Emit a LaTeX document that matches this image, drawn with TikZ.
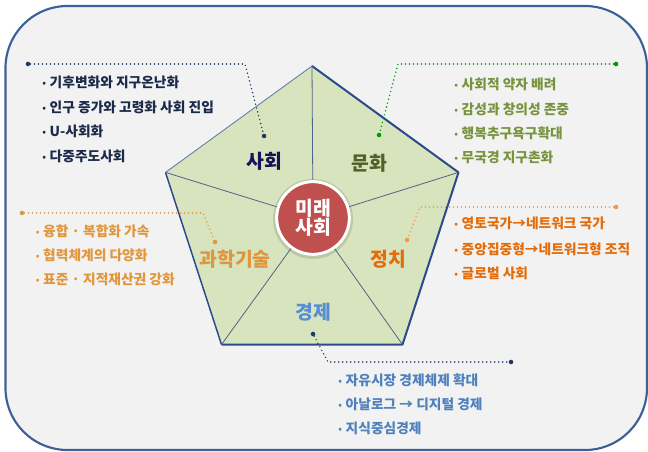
\documentclass[tikz,border=0pt]{standalone}
\usepackage{fontspec}
\setmainfont{Noto Sans CJK KR}
\definecolor{bg}{HTML}{F2F2F2}
\definecolor{frame}{HTML}{3D6196}
\definecolor{pfill}{HTML}{D7E4BD}
\definecolor{pedge}{HTML}{2B4A8B}
\definecolor{spokec}{HTML}{50648A}
\definecolor{cred}{HTML}{C0504D}
\definecolor{navyT}{HTML}{1B2A49}
\definecolor{navyL}{HTML}{1F3864}
\definecolor{sahoeC}{HTML}{14145A}
\definecolor{oliveT}{HTML}{77933C}
\definecolor{oliveL}{HTML}{4F6228}
\definecolor{greenL}{HTML}{009A00}
\definecolor{orgA}{HTML}{E0963C}
\definecolor{orgB}{HTML}{E46C0A}
\definecolor{orgBL}{HTML}{F79646}
\definecolor{blueT}{HTML}{4F81BD}
\definecolor{blueL}{HTML}{558ED5}
\newcommand\bul{\makebox[5.6pt][l]{\raisebox{0.6pt}{\fontsize{7}{7}\selectfont •}}}
\begin{document}
\begin{tikzpicture}[x=0.75pt,y=-0.75pt,
  lead/.style={line width=1.2pt, dash pattern=on 0pt off 3pt, line cap=round},
  enddot/.style={circle, fill, inner sep=0pt, minimum size=3.4pt},
  item/.style={anchor=west, inner sep=0pt, font=\bfseries\fontsize{10.3}{12}\selectfont},
  seg/.style={font=\bfseries\fontsize{14.5}{16}\selectfont, inner sep=0pt},
  spoke/.style={draw=spokec, line width=0.6pt}]
\useasboundingbox (0,0) rectangle (648,452);
% frame
\draw[fill=bg, draw=frame, line width=1.6pt, rounded corners=46.5pt] (5.5,6) rectangle (647,450);
% pentagon
\coordinate (PT) at (312,66);
\coordinate (PUR) at (458.5,172.4);
\coordinate (PLR) at (402.5,344.6);
\coordinate (PLL) at (221.5,344.6);
\coordinate (PUL) at (165.5,172.4);
\fill[pfill] (PT) -- (PUR) -- (PLR) -- (PLL) -- (PUL) -- cycle;
\draw[pedge!70, line width=0.7pt] (PUL) -- (PT);
\draw[pedge, line width=1.5pt, line join=round] (PT) -- (PUR) -- (PLR) -- (PLL);
\draw[pedge, line width=1.1pt] (PLL) -- (PUL);
% centre
\fill[black, opacity=0.12] (313,219) circle[radius=40];
\node[circle, fill=cred, draw=white, line width=2.2pt, minimum size=54.5pt, inner sep=0pt,
  text=white, align=center, font=\bfseries\fontsize{14.5}{14.6}\selectfont] (mid) at (313,218) {미래\\사회};
\foreach \v in {PT,PUR,PLR,PLL,PUL} \draw[spoke] (mid) -- (\v);
% segment labels
\node[seg, text=sahoeC] (lsahoe) at (264,161) {사회};
\node[seg, text=oliveL] (lmunhwa) at (369,163) {문화};
\node[seg, text=orgA] (lgwahak) at (235,259) {과학기술};
\node[seg, text=orgB] (ljeongchi) at (388,259) {정치};
\node[seg, text=blueL] (lgyeongje) at (313,312) {경제};
% leaders
\node[enddot, navyL] (d1a) at (28,64) {};
\coordinate (k1) at (245,64);
\node[enddot, navyL] (d1b) at (264,136) {};
\draw[lead, navyL] (d1a) -- (k1) -- (d1b);
\node[enddot, greenL] (d2a) at (616,64) {};
\coordinate (k2) at (398,64);
\node[enddot, greenL] (d2b) at (379,135) {};
\draw[lead, greenL] (d2a) -- (k2) -- (d2b);
\node[enddot, orgA] (d3a) at (22,213) {};
\coordinate (k3) at (203,213);
\node[enddot, orgA] (d3b) at (215,242) {};
\draw[lead, orgA] (d3a) -- (k3) -- (d3b);
\node[enddot, orgBL] (d4a) at (616,207) {};
\coordinate (k4) at (420,207);
\node[enddot, orgBL] (d4b) at (407,240) {};
\draw[lead, orgBL] (d4a) -- (k4) -- (d4b);
\node[enddot, navyL] (d5a) at (313,334) {};
\coordinate (k5) at (328,362);
\node[enddot, navyL] (d5b) at (511,362) {};
\draw[lead, navyL] (d5a) -- (k5) -- (d5b);
% lists
\node[item, text=navyT] (t11) at (42,82) {\bul 기후변화와 지구온난화};
\node[item, text=navyT] (t12) at (42,107) {\bul 인구 증가와 고령화 사회 진입};
\node[item, text=navyT] (t13) at (42,131) {\bul U-사회화};
\node[item, text=navyT] (t14) at (42,156) {\bul 다중주도사회};
\node[item, text=oliveT] (t21) at (454,84) {\bul 사회적 약자 배려};
\node[item, text=oliveT] (t22) at (454,109) {\bul 감성과 창의성 존중};
\node[item, text=oliveT] (t23) at (454,133) {\bul 행복추구욕구확대};
\node[item, text=oliveT] (t24) at (454,157) {\bul 무국경 지구촌화};
\node[item, text=orgA] (t31) at (35.5,231) {\bul 융합 · 복합화 가속};
\node[item, text=orgA] (t32) at (35.5,255) {\bul 협력체계의 다양화};
\node[item, text=orgA] (t33) at (35.5,279) {\bul 표준 · 지적재산권 강화};
\node[item, text=orgB] (t41) at (454,223) {\bul 영토국가→네트워크 국가};
\node[item, text=orgB] (t42) at (454,249) {\bul 중앙집중형→네트워크형 조직};
\node[item, text=orgB] (t43) at (454,273) {\bul 글로벌 사회};
\node[item, text=blueT] (t51) at (338,380) {\bul 자유시장 경제체제 확대};
\node[item, text=blueT] (t52) at (338,404) {\bul 아날로그 → 디지털 경제};
\node[item, text=blueT] (t53) at (338,428) {\bul 지식중심경제};
\end{tikzpicture}
\end{document}
